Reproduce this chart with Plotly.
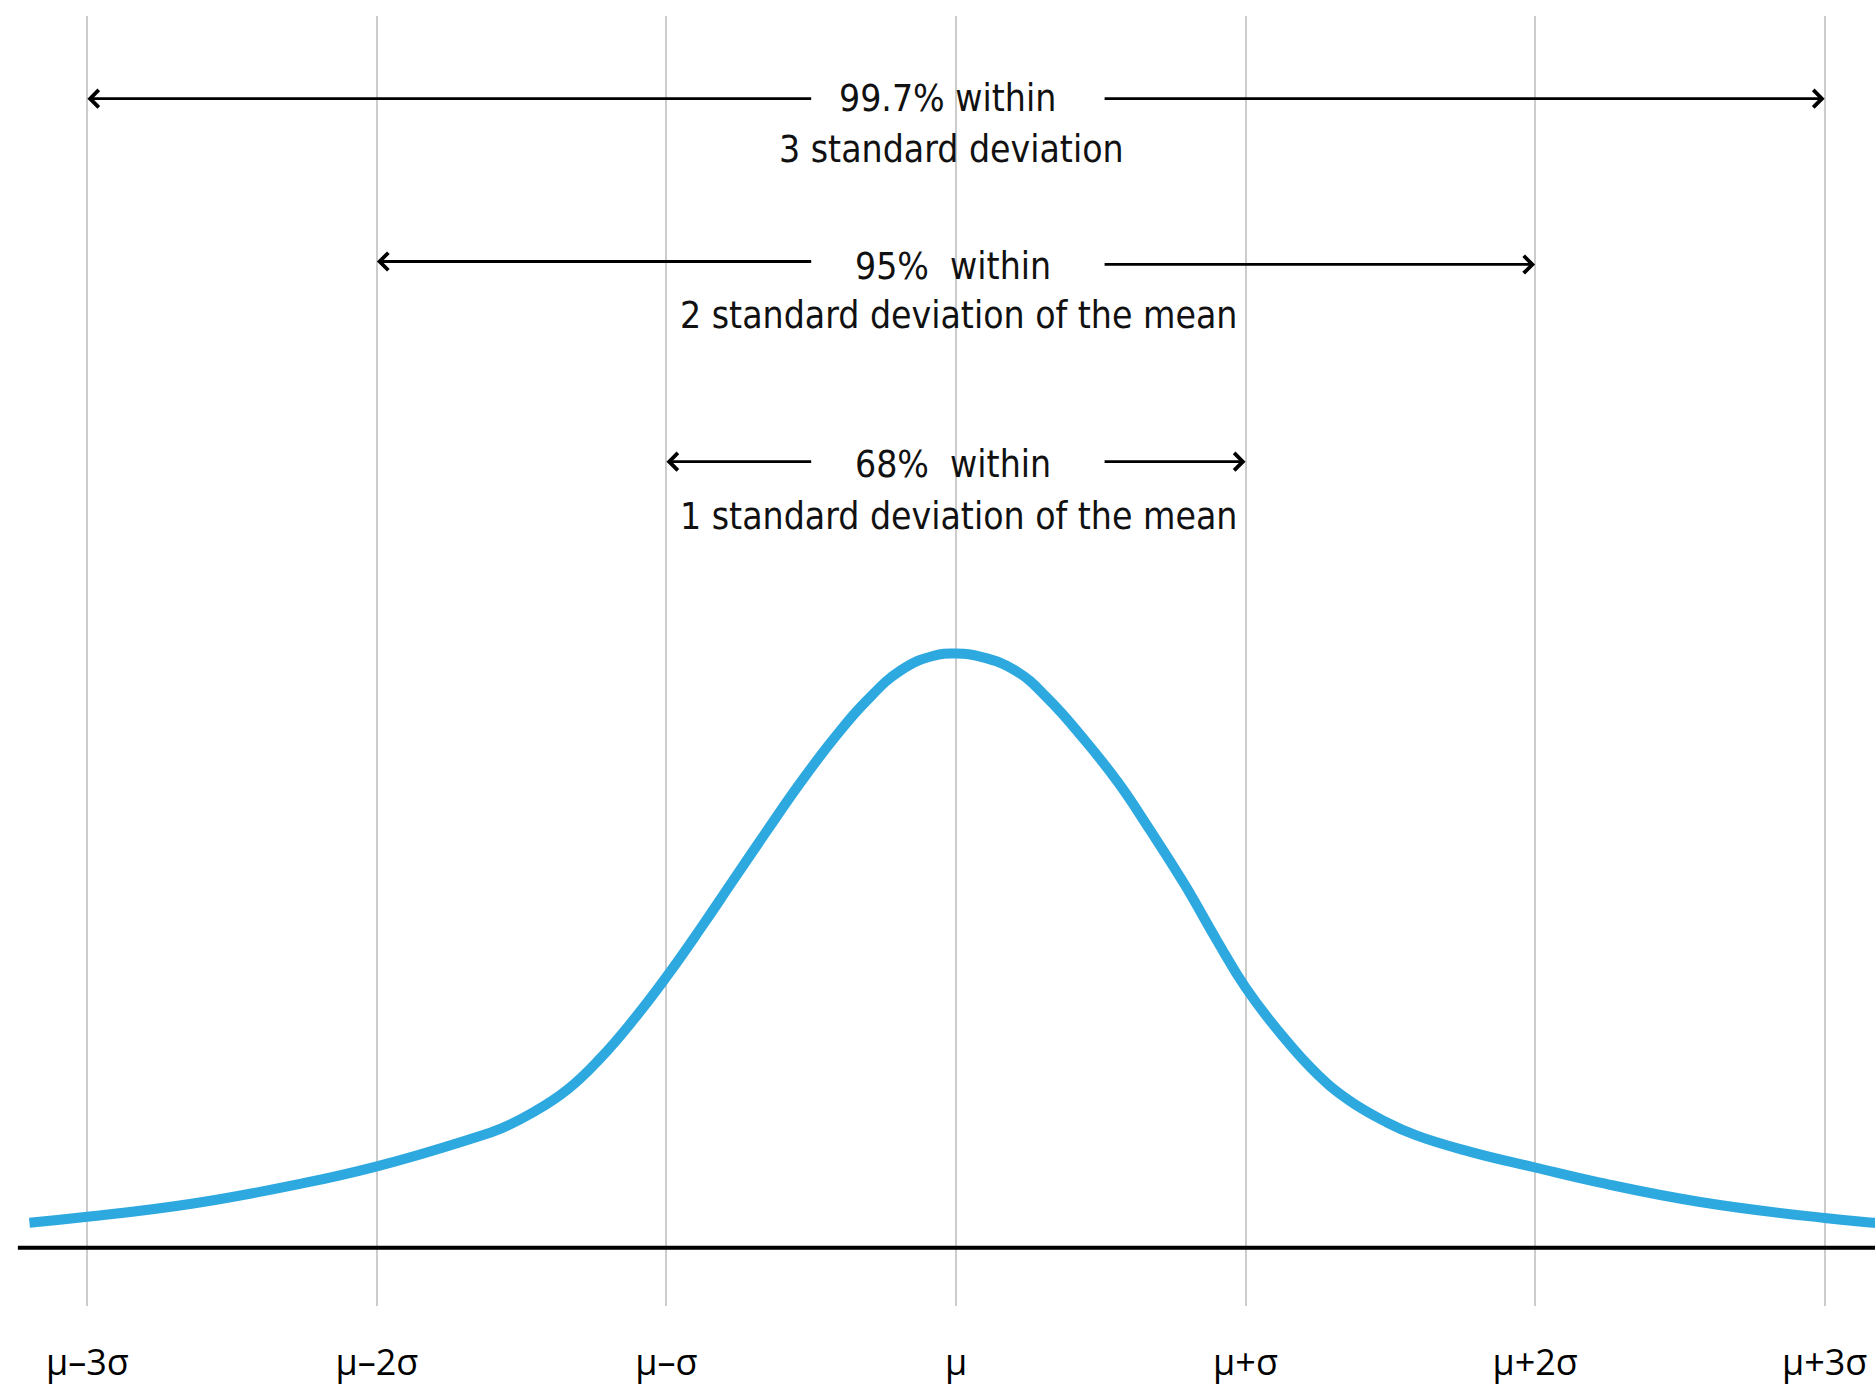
import plotly.graph_objects as go

# Positions of the standard-deviation markers (in units of sigma) and their labels
sigma_ticks = [-3, -2, -1, 0, 1, 2, 3]
tick_labels = ["μ–3σ", "μ–2σ", "μ–σ", "μ", "μ+σ", "μ+2σ", "μ+3σ"]

# Bell curve: x in sigma units, y as relative height (peak = 1)
curve_x = [-3.20, -3.00, -2.64, -2.27, -2.00, -1.69, -1.57, -1.46,
           -1.34, -1.23, -1.11, -1.00, -0.88, -0.77, -0.65, -0.54, -0.42, -0.31,
           -0.19, -0.08, 0.00, 0.09, 0.21, 0.32, 0.44, 0.56, 0.67, 0.79,
           0.90, 1.00, 1.13, 1.25, 1.36, 1.48, 1.59, 1.78, 2.00, 2.22,
           2.57, 3.00, 3.17, 3.25]
curve_y = [0.042, 0.052, 0.074, 0.107, 0.137, 0.181, 0.201, 0.228,
           0.267, 0.318, 0.386, 0.456, 0.539, 0.618, 0.704, 0.781, 0.858, 0.920,
           0.972, 0.996, 1.000, 0.994, 0.970, 0.923, 0.857, 0.783, 0.703, 0.611,
           0.518, 0.438, 0.355, 0.291, 0.247, 0.213, 0.189, 0.161, 0.135, 0.110,
           0.077, 0.050, 0.042, 0.039]

# Coverage bands: half-width in sigma, first and second text lines
band_sigma = [3, 2, 1]
band_line1 = ["99.7% within", "95%\u00a0\u00a0within", "68%\u00a0\u00a0within"]
band_line2 = ["3 standard deviation", "2 standard deviation of the mean",
              "1 standard deviation of the mean"]

CURVE_COLOR = "#2EA9E0"
TEXT_FONT = "Liberation Sans Narrow, DejaVu Sans Condensed, Arial Narrow, sans-serif"

fig = go.Figure()

fig.add_trace(go.Scatter(
    x=curve_x, y=curve_y, mode="lines",
    line=dict(color=CURVE_COLOR, width=10, shape="spline", smoothing=1.3),
    hoverinfo="skip", showlegend=False,
))

# Baseline
fig.add_shape(type="line", xref="x", yref="y", x0=-3.24, x1=3.3, y0=0, y1=0,
              line=dict(color="black", width=4))

# Layout of each band's arrows and labels
arrow_y = [[1.934, 1.934], [1.660, 1.655], [1.323, 1.323]]
line1_y = [1.934, 1.652, 1.318]
line2_y = [1.848, 1.569, 1.231]
line1_x = [-0.028, -0.010, -0.010]
line2_x = [-0.014, 0.007, 0.010]
gap_left, gap_right = -0.495, 0.508

annotations = []
for k, l1, l2, ay, y1, y2, x1, x2 in zip(band_sigma, band_line1, band_line2,
                                          arrow_y, line1_y, line2_y, line1_x, line2_x):
    for tip, start, yy in ((-k, gap_left, ay[0]), (k, gap_right, ay[1])):
        annotations.append(dict(
            x=tip, y=yy, ax=start, ay=yy, xref="x", yref="y", axref="x", ayref="y",
            text="", showarrow=True, arrowhead=4, arrowsize=1.2, arrowwidth=2.8,
            arrowcolor="black", standoff=0,
        ))
    annotations.append(dict(x=x1, y=y1, xref="x", yref="y", text=l1, showarrow=False,
                            xanchor="center", yanchor="middle",
                            font=dict(family=TEXT_FONT, size=37, color="#111111")))
    annotations.append(dict(x=x2, y=y2, xref="x", yref="y", text=l2, showarrow=False,
                            xanchor="center", yanchor="middle",
                            font=dict(family=TEXT_FONT, size=37, color="#111111")))

fig.update_layout(
    width=1875, height=1387,
    margin=dict(l=0, r=0, t=16, b=81),
    paper_bgcolor="white", plot_bgcolor="white",
    showlegend=False,
    annotations=annotations,
    xaxis=dict(
        range=[-3.3017, 3.1739],
        tickvals=sigma_ticks, ticktext=tick_labels,
        showgrid=True, gridcolor="#cccccc", gridwidth=2,
        zeroline=False, showline=False, ticks="",
        tickfont=dict(family="Open Sans, sans-serif", size=36, color="black"),
        ticklabelstandoff=32,
        fixedrange=True,
    ),
    yaxis=dict(
        range=[-0.0981, 2.0732],
        visible=False, showgrid=False, zeroline=False, fixedrange=True,
    ),
)

fig.write_html("out.html")
